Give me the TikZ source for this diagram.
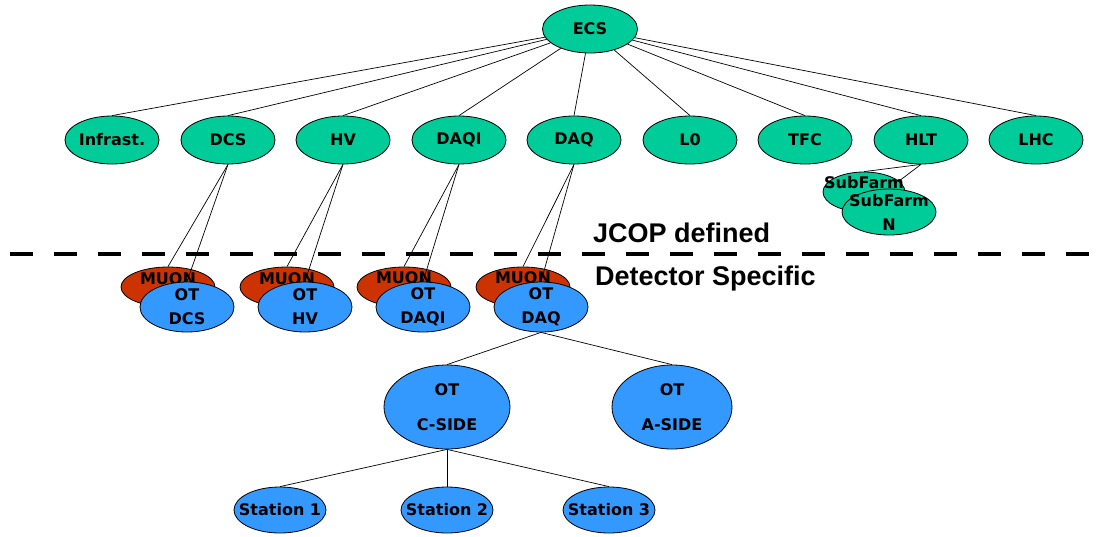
\documentclass[tikz,border=0pt]{standalone}
\usepackage{fontspec}
\setmainfont{DejaVu Sans}
\newfontfamily\labelfont{Liberation Sans}
\usetikzlibrary{shapes.geometric}
\definecolor{ecsgreen}{RGB}{0,204,153}
\definecolor{otblue}{RGB}{51,153,255}
\definecolor{muonred}{RGB}{204,51,0}
\pgfdeclarelayer{back}
\pgfdeclarelayer{mid}
\pgfsetlayers{back,mid,main}
\tikzset{
  unit/.style={ellipse, draw=black, line width=0.8pt, inner sep=-16pt,
    align=center, font=\bfseries\fontsize{16}{24}\selectfont},
  top/.style={unit, fill=ecsgreen, minimum width=94pt, minimum height=48pt},
  farm/.style={unit, fill=ecsgreen},
  muon/.style={unit, fill=muonred, minimum width=94pt, minimum height=40pt,
    font=\bfseries\fontsize{16}{16}\selectfont},
  ot/.style={unit, fill=otblue, minimum width=94pt, minimum height=50pt},
  side/.style={unit, fill=otblue, minimum height=84pt,
    font=\bfseries\fontsize{16}{35}\selectfont},
  station/.style={unit, fill=otblue, minimum width=92pt, minimum height=46pt},
  link/.style={draw=black, line width=0.7pt},
  border/.style={line width=4.5pt, dash pattern=on 23pt off 21pt},
  caption/.style={anchor=base west, inner sep=0pt,
    font=\labelfont\bfseries\fontsize{27}{30}\selectfont}
}
\begin{document}
\begin{tikzpicture}[x=1pt, y=-1pt]
\useasboundingbox (0,0) rectangle (1102,536);

% experiment control system and its top-level domains
\node[top, minimum width=95pt] (ecs) at (590,29) {ECS};
\node[top] (infra) at (112,140) {Infrast.};
\node[top] (dcs)   at (228,140) {DCS};
\node[top] (hv)    at (343,140) {HV};
\node[top] (daqi)  at (459,140) {DAQI};
\node[top] (daq)   at (574,140) {DAQ};
\node[top] (lzero) at (690,140) {L0};
\node[top] (tfc)   at (805,140) {TFC};
\node[top] (hlt)   at (921,140) {HLT};
\node[top] (lhc)   at (1036,140) {LHC};

\foreach \n in {infra,dcs,hv,daqi,daq,lzero,tfc,hlt,lhc}
  \draw[link] (ecs) -- (\n.north);

% HLT sub-farms
\node[farm, minimum width=82pt, minimum height=40pt,
  font=\bfseries\fontsize{16}{20}\selectfont] (farmA) at (864,192) {SubFarm\\\phantom{N}};
\node[farm, minimum width=94pt, minimum height=46pt] (farmN) at (889,212) {SubFarm\\N};
\begin{pgfonlayer}{mid}
  \draw[link] (hlt.south) -- (farmA.north);
  \draw[link] (hlt.south) -- (farmN.north);
\end{pgfonlayer}

% boundary between JCOP and detector specific parts
\coordinate (dashL) at (10,254);
\coordinate (dashR) at (1100,254);
\draw[border] (dashL) -- (dashR);
\node[caption] (jcop) at (593,242) {JCOP defined};
\node[caption] (detspec) at (595,285) {Detector Specific};

% detector partitions: MUON behind, OT in front
\begin{pgfonlayer}{back}
  \node[muon] (muA) at (168,287) {MUON\\\phantom{DCS}};
  \node[muon] (muB) at (287,287) {MUON\\\phantom{HV}};
  \node[muon] (muC) at (404,287) {MUON\\\phantom{DAQI}};
  \node[muon] (muD) at (523,287) {MUON\\\phantom{DAQ}};
\end{pgfonlayer}
\node[ot] (otA) at (187,307) {OT\\DCS};
\node[ot] (otB) at (305,307) {OT\\HV};
\node[ot] (otC) at (423,307) {OT\\DAQI};
\node[ot] (otD) at (541,307) {OT\\DAQ};

\begin{pgfonlayer}{mid}
  \draw[link] (dcs.south)  -- (muA.north);
  \draw[link] (dcs.south)  -- (otA.north);
  \draw[link] (hv.south)   -- (muB.north);
  \draw[link] (hv.south)   -- (otB.north);
  \draw[link] (daqi.south) -- (muC.north);
  \draw[link] (daqi.south) -- (otC.north);
  \draw[link] (daq.south)  -- (muD.north);
  \draw[link] (daq.south)  -- (otD.north);
\end{pgfonlayer}

% OT sides and stations
\node[side, minimum width=126pt] (cside) at (447,407) {OT\\C-SIDE};
\node[side, minimum width=120pt] (aside) at (672,407) {OT\\A-SIDE};
\draw[link] (otD.south) -- (cside.north);
\draw[link] (otD.south) -- (aside.north);

\node[station] (st1) at (280,510) {Station 1};
\node[station] (st2) at (447,510) {Station 2};
\node[station] (st3) at (609,510) {Station 3};
\foreach \s in {st1,st2,st3}
  \draw[link] (cside.south) -- (\s.north);
\end{tikzpicture}
\end{document}
